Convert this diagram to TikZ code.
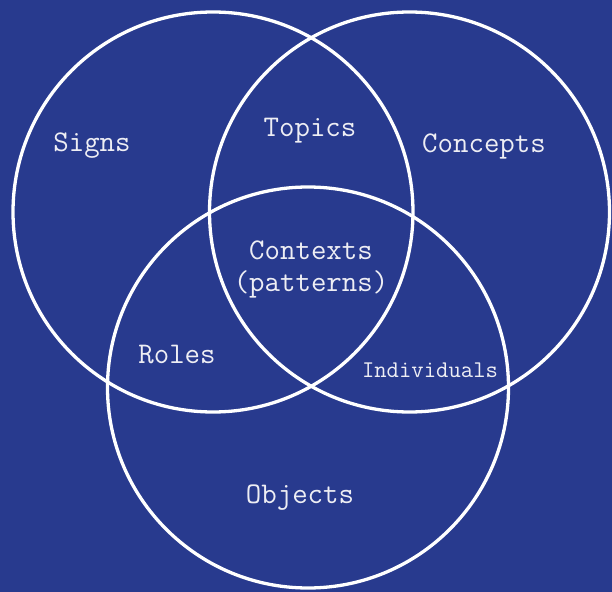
\documentclass[tikz,border=0pt]{standalone}
\usepackage{xcolor}
\usepackage{tikz}
\usetikzlibrary{positioning}

\definecolor{venbg}{HTML}{283A8E}
\definecolor{ventext}{HTML}{EEEEF4}

\begin{document}
\begin{tikzpicture}[
    x=1bp, y=-1bp,
    ring/.style={draw=white, line width=3.3bp},
    lbl/.style={text=ventext, inner sep=0pt, align=center,
                font=\ttfamily\fontsize{30bp}{32bp}\selectfont},
    small/.style={lbl, font=\ttfamily\fontsize{24bp}{28bp}\selectfont},
]

% --- background, fixes the page size -------------------------------------------
\fill[venbg] (0,0) rectangle (612,592);
\useasboundingbox (0,0) rectangle (612,592);

% --- the three sets -------------------------------------------------------------
\draw[ring] (213,212) circle (200);
\draw[ring] (409.5,212) circle (200);
\draw[ring] (308,387.5) circle (200.5);

% --- labels ---------------------------------------------------------------------
\node[lbl] (signs)    at (92,146)  {Signs};
\node[lbl] (topics)   at (310,131) {Topics};
\node[lbl] (concepts) at (484,146) {Concepts};
\node[lbl] (contexts) at (311,269) {Contexts\\(patterns)};
\node[lbl] (roles)    at (177,355) {Roles};
\node[small] (indiv)  at (430,370) {Individuals};
\node[lbl] (objects)  at (300,498) {Objects};

\end{tikzpicture}
\end{document}
